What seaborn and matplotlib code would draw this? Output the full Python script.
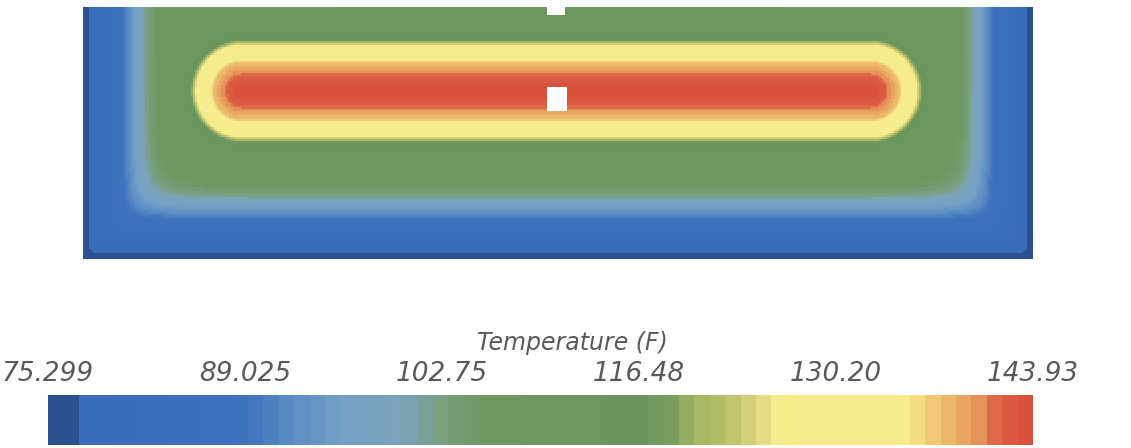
import numpy as np
import matplotlib
matplotlib.use("Agg")
import matplotlib.pyplot as plt
from matplotlib.colors import LinearSegmentedColormap, ListedColormap
import seaborn as sns

# ---- Temperature scale (F) ----
T_MIN, T_MAX = 75.299, 143.93
tick_values = [75.299, 89.025, 102.75, 116.48, 130.20, 143.93]
tick_labels = ["75.299", "89.025", "102.75", "116.48", "130.20", "143.93"]

# colour anchors of the scale: temperature -> colour
anchor_temps = [75.3, 77.2, 77.4, 88.7, 91.0, 95.6, 100.0, 102.6, 105.4,
                117.0, 119.0, 120.5, 122.5, 124.9, 126.3, 135.7, 137.0,
                139.0, 141.0, 142.0, 143.93]
anchor_colors = ["#2c4f8f", "#2c4f8f", "#3a6cb7", "#3f72bc", "#5586c2",
                 "#74a0c6", "#7ba2b8", "#78a07e", "#6c985f", "#6a955c",
                 "#7b9f5f", "#a2b563", "#b4bd68", "#dcd680", "#f5ec8c",
                 "#f6ec8e", "#f1d07c", "#ecb066", "#e48e56", "#dc5f45",
                 "#d8523d"]

# ---- Plate geometry (mm) ----
plate_width, plate_height = 950.0, 252.0
cell = 2.0
heater_x0, heater_x1, heater_y = 159.0, 788.0, 84.0
heater_reach = 60.0

# temperature vs. distance from the heater centre line
heater_dist = [0, 13, 16, 22, 29, 31, 38, 45, 48, 52, 60, 100, 200, 400]
heater_temp = [143.8, 142.3, 141.0, 139.3, 137.3, 135.0, 131.0, 127.5,
               123.0, 116.0, 112.0, 109.0, 107.0, 106.0]

# temperature vs. distance from the cooled side and bottom walls
wall_dist = [0, 6, 10, 25, 38, 47, 56, 63, 75, 400]
wall_temp = [76.0, 77.2, 79.0, 84.0, 88.0, 93.0, 98.0, 102.5, 106.0, 112.0]

# sensor holes (no data): (x0, x1, y0, y1) in mm
holes = [(465.0, 482.0, 0.0, 8.0), (465.0, 484.0, 81.0, 103.0)]

# ---- Build the temperature field ----
xs = (np.arange(int(plate_width / cell)) + 0.5) * cell
ys = (np.arange(int(plate_height / cell)) + 0.5) * cell
X, Y = np.meshgrid(xs, ys)

cx = np.clip(X, heater_x0, heater_x1)
d_heater = np.hypot(X - cx, Y - heater_y)

p = 4.0
d_wall = (X ** -p + (plate_width - X) ** -p + (plate_height - Y) ** -p) ** (-1.0 / p)

T_heater = np.interp(d_heater, heater_dist, heater_temp)
T_wall = np.interp(d_wall, wall_dist, wall_temp)
T = np.where(d_heater < heater_reach, T_heater, np.minimum(T_heater, T_wall))

mask = np.zeros_like(T, dtype=bool)
for x0, x1, y0, y1 in holes:
    mask |= (X >= x0) & (X <= x1) & (Y >= y0) & (Y <= y1)

# ---- Colour map: banded scale ----
pos = [(t - T_MIN) / (T_MAX - T_MIN) for t in anchor_temps]
pos[0], pos[-1] = 0.0, 1.0
smooth = LinearSegmentedColormap.from_list("temp", list(zip(pos, anchor_colors)))
cmap = ListedColormap(smooth(np.linspace(0, 1, 64)))

# ---- Figure ----
sns.set_theme(style="white")
fig = plt.figure(figsize=(11.31, 4.48), dpi=100)
W, H = 1131.0, 448.0
ax = fig.add_axes([83 / W, 1 - 259 / H, 950 / W, 252 / H])
cax = fig.add_axes([48 / W, 3 / H, 985 / W, 50 / H])

sns.heatmap(T, mask=mask, cmap=cmap, vmin=T_MIN, vmax=T_MAX, ax=ax,
            cbar_ax=cax, cbar_kws={"orientation": "horizontal"},
            xticklabels=False, yticklabels=False, rasterized=True)
ax.set_facecolor("white")
for s in ax.spines.values():
    s.set_visible(False)

cbar = ax.collections[0].colorbar
cbar.outline.set_visible(False)
cbar.set_ticks(tick_values)
cbar.set_ticklabels(tick_labels)
cax.xaxis.set_ticks_position("top")
cax.tick_params(axis="x", length=0, pad=5.5, labelsize=19, labelcolor="#5a5a5a")
for lbl in cax.get_xticklabels():
    lbl.set_fontstyle("italic")
    lbl.set_family("DejaVu Sans")

fig.text(572 / W, 1 - 343 / H, "Temperature (F)", ha="center", va="center",
         fontsize=17, style="italic", color="#5a5a5a", family="DejaVu Sans")

fig.savefig("out.png", dpi=100, facecolor="white")
